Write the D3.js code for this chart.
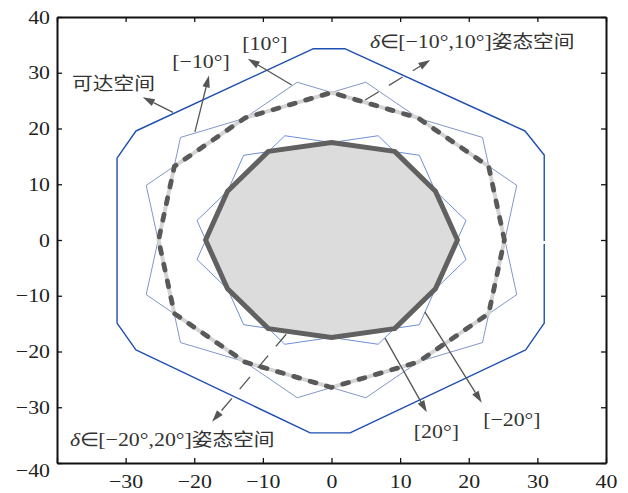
<!DOCTYPE html>
<html>
<head>
<meta charset="utf-8">
<script src="https://cdn.jsdelivr.net/npm/d3@7"></script>
<style>
  html, body { margin: 0; padding: 0; background: #fff; }
  svg { display: block; }
</style>
</head>
<body>
<svg id="chart" width="628" height="493"></svg>
<script>
// Axis ticks
const xTicks = [-40, -30, -20, -10, 0, 10, 20, 30, 40];
const yTicks = [-40, -30, -20, -10, 0, 10, 20, 30, 40];

// Reachable workspace boundary (可达空间), traced as an open contour
// that starts and ends on the right edge
const reachable = [
  [31.0, -0.7], [31.0, -14.9], [28.3, -19.7], [2.7, -34.6], [-3.1, -34.6],
  [-28.5, -19.7], [-31.25, -14.9], [-31.25, 14.7], [-28.5, 19.55], [-2.7, 34.3],
  [2.0, 34.3], [28.2, 19.55], [31.0, 15.25], [31.0, -0.2]
];

// Cross-sections at fixed tilt angle δ
const tiltNeg10 = [[27.0, 9.8], [5.0, 28.3], [-22.0, 18.4], [-27.0, -9.8], [-5.0, -28.3], [22.0, -18.4]];
const tiltPos10 = [[22.0, 18.4], [-5.0, 28.3], [-27.0, 9.8], [-22.0, -18.4], [5.0, -28.3], [27.0, -9.8]];
const tiltNeg20 = [[19.6, 3.5], [6.8, 18.7], [-12.8, 15.2], [-19.6, -3.5], [-6.8, -18.7], [12.8, -15.2]];
const tiltPos20 = [[12.8, 15.2], [-6.8, 18.7], [-19.6, 3.5], [-12.8, -15.2], [6.8, -18.7], [19.6, -3.5]];

// Orientation workspaces over an interval of δ
const range10 = [
  [25.2, 0], [22.9, 13.2], [12.6, 21.9], [0, 26.45], [-12.6, 21.9], [-22.9, 13.2],
  [-25.2, 0], [-22.9, -13.2], [-12.6, -21.9], [0, -26.45], [12.6, -21.9], [22.9, -13.2]
];
const range20 = [
  [18.35, 0], [15.15, 8.75], [9.2, 15.9], [0, 17.5], [-9.2, 15.9], [-15.15, 8.75],
  [-18.35, 0], [-15.15, -8.75], [-9.2, -15.9], [0, -17.5], [9.2, -15.9], [15.15, -8.75]
];

// Callouts: label anchor, arrow start (on the curve) and arrow tip
const callouts = [
  { parts: [["可达空间", "cjk"]], at: [-37.8, 26.9], from: [-23.1, 22.9], to: [-27.5, 25.6], dashed: false },
  { parts: [["[−10°]", "serif"]], at: [-23.2, 30.9], from: [-19.9, 19.4], to: [-17.85, 29.5], dashed: false },
  { parts: [["[10°]", "serif"]], at: [-13.0, 34.1], from: [-5.8, 27.8], to: [-12.2, 32.5], dashed: false },
  { parts: [["δ", "italic"], ["∈[−10°,10°]", "serif"], ["姿态空间", "cjk"]], at: [5.6, 34.4], from: [4.9, 25.1], to: [14.4, 32.3], dashed: true },
  { parts: [["δ", "italic"], ["∈[−20°,20°]", "serif"], ["姿态空间", "cjk"]], at: [-38.1, -37.0], from: [-6.6, -16.9], to: [-17.4, -32.6], dashed: true },
  { parts: [["[20°]", "serif"]], at: [12.0, -35.5], from: [7.8, -17.6], to: [13.9, -30.9], dashed: false },
  { parts: [["[−20°]", "serif"]], at: [22.1, -33.4], from: [13.6, -12.9], to: [21.9, -29.2], dashed: false }
];

const svg = d3.select("#chart");
const W = 628, H = 493;
svg.append("rect").attr("width", W).attr("height", H).attr("fill", "#fff");

const x = d3.scaleLinear().domain([-40, 40]).range([57, 606]);
const y = d3.scaleLinear().domain([-40, 40]).range([463, 17]);

const SERIF = "'Liberation Serif', 'Times New Roman', serif";
const CJK = "'Noto Sans CJK SC', sans-serif";
const SX = 1.15; // horizontal stretch of all lettering

const closed = d3.line().x(d => x(d[0])).y(d => y(d[1])).curve(d3.curveLinearClosed);
const open = d3.line().x(d => x(d[0])).y(d => y(d[1]));

const plot = svg.append("g");

// reachable space
plot.append("path").attr("d", open(reachable))
  .attr("fill", "none").attr("stroke", "#1f4fb0").attr("stroke-width", 1.4)
  .attr("stroke-linejoin", "round");

// ±10° sections
[tiltNeg10, tiltPos10].forEach(p => {
  plot.append("path").attr("d", closed(p))
    .attr("fill", "none").attr("stroke", "#5a76b6").attr("stroke-width", 0.9)
    .attr("stroke-opacity", 0.85);
});

// δ∈[−10°,10°] boundary: soft underlay + heavy dashes
plot.append("path").attr("d", closed(range10))
  .attr("fill", "none").attr("stroke", "#d4d4d4").attr("stroke-width", 4);
plot.append("path").attr("d", closed(range10))
  .attr("fill", "none").attr("stroke", "#595959").attr("stroke-width", 4.8)
  .attr("stroke-linecap", "round").attr("stroke-dasharray", "6,11");

// ±20° sections
[tiltNeg20, tiltPos20].forEach(p => {
  plot.append("path").attr("d", closed(p))
    .attr("fill", "none").attr("stroke", "#3f6cc4").attr("stroke-width", 0.9)
    .attr("stroke-opacity", 0.85);
});

// δ∈[−20°,20°] region
plot.append("path").attr("d", closed(range20))
  .attr("fill", "#dcdcdc").attr("stroke", "#616161").attr("stroke-width", 5)
  .attr("stroke-linejoin", "round");

// callout arrows
const HEAD_L = 12, HEAD_W = 7.5;
callouts.forEach(c => {
  const sx = x(c.from[0]), sy = y(c.from[1]);
  const tx = x(c.to[0]), ty = y(c.to[1]);
  const len = Math.hypot(tx - sx, ty - sy);
  const ux = (tx - sx) / len, uy = (ty - sy) / len;
  const bx = tx - ux * HEAD_L, by = ty - uy * HEAD_L;
  const px = -uy, py = ux;
  plot.append("line")
    .attr("x1", sx).attr("y1", sy).attr("x2", bx).attr("y2", by)
    .attr("stroke", "#555").attr("stroke-width", 1.3)
    .attr("stroke-dasharray", c.dashed ? "16,12" : null);
  plot.append("path")
    .attr("d", `M${tx},${ty}L${bx + px * HEAD_W / 2},${by + py * HEAD_W / 2}L${bx - px * HEAD_W / 2},${by - py * HEAD_W / 2}Z`)
    .attr("fill", "#555");
});

// callout labels
callouts.forEach(c => {
  const t = plot.append("text")
    .attr("transform", `translate(${x(c.at[0])},${y(c.at[1])}) scale(${SX},1)`)
    .attr("fill", "#333").attr("font-size", 19);
  c.parts.forEach(([s, kind]) => {
    const ts = t.append("tspan").text(s);
    if (kind === "cjk") ts.attr("font-family", CJK).attr("font-size", 18);
    else ts.attr("font-family", SERIF);
    if (kind === "italic") ts.attr("font-style", "italic");
  });
});

// axes: box with inward ticks
const axes = svg.append("g");
const bottom = axes.append("g").attr("transform", `translate(0,${y(-40)})`)
  .call(d3.axisBottom(x).tickValues(xTicks).tickSize(-5).tickSizeOuter(0).tickPadding(12));
const left = axes.append("g").attr("transform", `translate(${x(-40)},0)`)
  .call(d3.axisLeft(y).tickValues(yTicks).tickSize(-5).tickSizeOuter(0).tickPadding(7));
axes.append("g").attr("transform", `translate(0,${y(40)})`)
  .call(d3.axisTop(x).tickValues(xTicks).tickSize(-5).tickSizeOuter(0).tickFormat(""));
axes.append("g").attr("transform", `translate(${x(40)},0)`)
  .call(d3.axisRight(y).tickValues(yTicks).tickSize(-5).tickSizeOuter(0).tickFormat(""));

axes.selectAll(".domain").attr("stroke", "#111").attr("stroke-width", 2);
axes.selectAll(".tick line").attr("stroke", "#111").attr("stroke-width", 1.3);
axes.selectAll("text")
  .attr("font-family", SERIF).attr("font-size", 19).attr("fill", "#222");
bottom.selectAll("text").attr("transform", `scale(${SX},1)`);
left.selectAll("text").attr("x", -7 / SX).attr("transform", `scale(${SX},1)`);

// the shared corner value −40 is printed once, just below the corner
bottom.selectAll(".tick").filter(d => d === -40).select("text").remove();
left.selectAll(".tick").filter(d => d === -40).select("text").attr("dy", "0.72em");
</script>
</body>
</html>
